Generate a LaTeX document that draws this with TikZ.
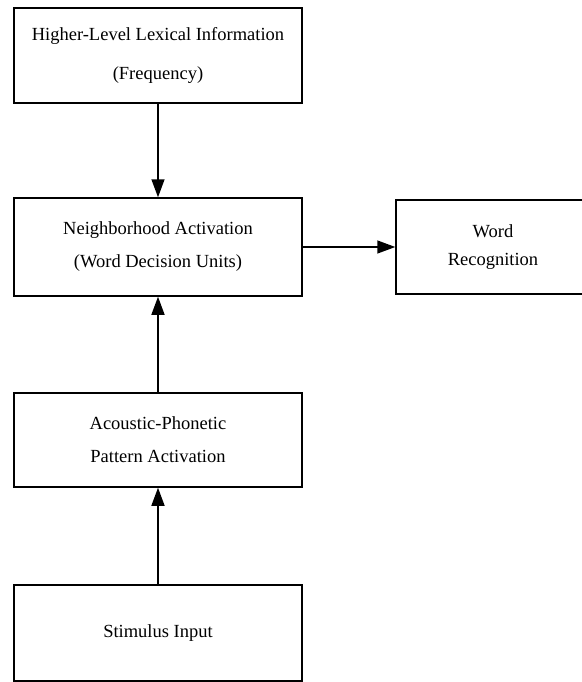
\documentclass[tikz,border=0pt]{standalone}
\usepackage{fontspec}
\setmainfont{Liberation Serif}
\usetikzlibrary{arrows.meta}
\tikzset{x=1pt, y=-1pt,
block/.style={ % Sets the properties for each box
draw,
line width=1.5pt,
inner sep=0pt,
minimum width=288,
align=center,
font=\fontsize{18.5}{33}\selectfont},
link/.style={ % Sets the properties for each arrow
draw,
line width=1.5pt,
-{Triangle[length=18pt,width=13pt]}}}

\begin{document}
\begin{tikzpicture}
\useasboundingbox[fill=white] (0,0) rectangle (581,682);
\node[block, minimum height=95] (high) at (158,55.5) {Higher-Level Lexical Information\\[6pt](Frequency)};
\node[block, minimum height=98] (neigh) at (158,247) {Neighborhood Activation\\(Word Decision Units)};
\node[block, minimum width=194, minimum height=94, text width=180, font=\fontsize{18.5}{28}\selectfont] (word) at (493,247) {Word\\Recognition};
\node[block, minimum height=94] (acou) at (158,440) {Acoustic-Phonetic\\Pattern Activation};
\node[block, minimum height=96] (stim) at (158,633) {Stimulus Input};
\draw[link] (high.south) -- (neigh.north);
\draw[link] (neigh.east) -- (word.west);
\draw[link] (acou.north) -- (neigh.south);
\draw[link] (stim.north) -- (acou.south);
\end{tikzpicture}
\end{document}
